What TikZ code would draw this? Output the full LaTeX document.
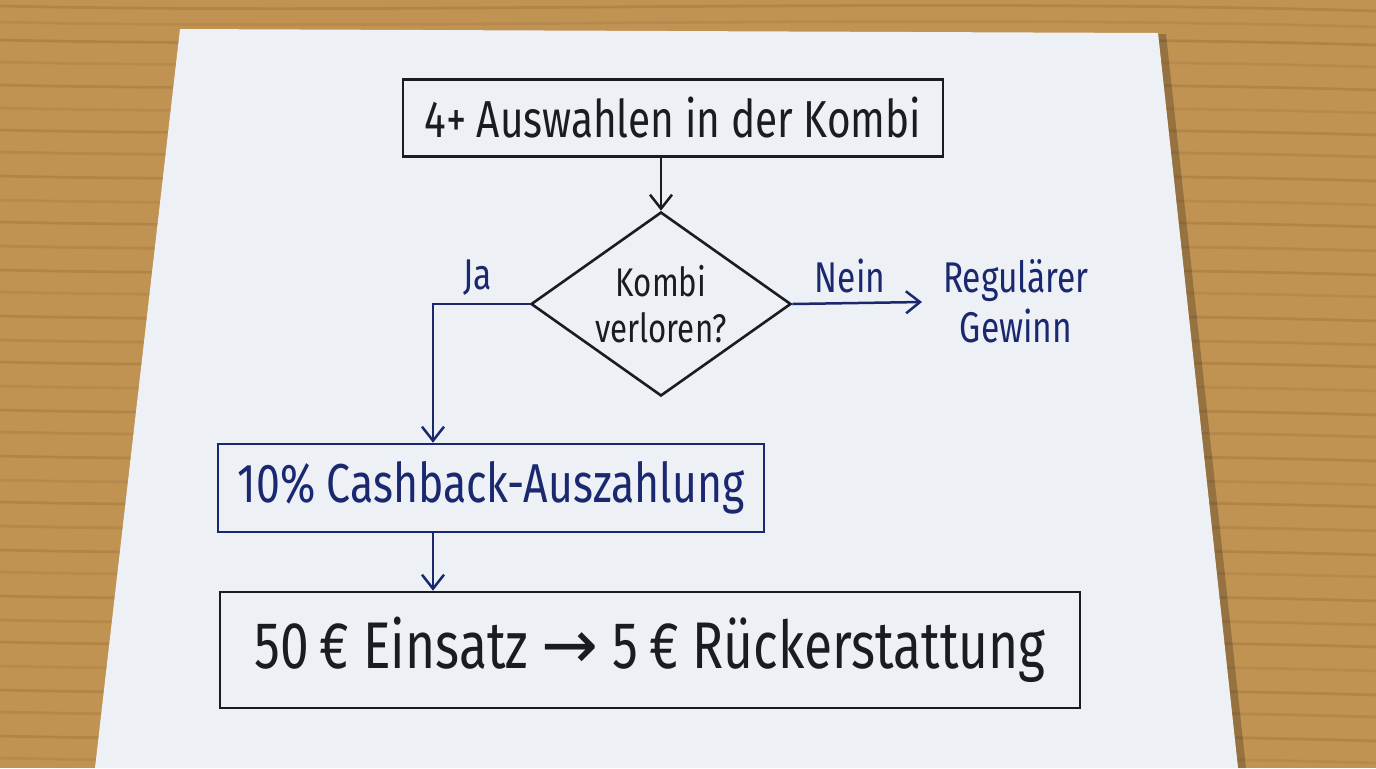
\documentclass[tikz,border=0pt]{standalone}
\usepackage{fontspec}
\usetikzlibrary{shapes.geometric,arrows.meta}
\newfontfamily\hand[FakeStretch=0.78]{Fira Sans}
\newfontfamily\symfont{DejaVu Sans}
\definecolor{wood}{HTML}{C19353}
\definecolor{wooddark}{HTML}{8E6530}
\definecolor{paper}{HTML}{EDF0F4}
\definecolor{inkblack}{HTML}{1B1B22}
\definecolor{inkblue}{HTML}{1A2870}
\tikzset{
  box/.style={draw, line width=1.3pt, inner sep=0pt, font=\hand},
  dia/.style={draw, shape=diamond, line width=1.3pt, inner sep=0pt},
  lbl/.style={font=\hand\fontsize{21.5}{25}\selectfont, text=inkblue, align=center},
  conn/.style={line width=1.25pt, -{Straight Barb[length=7pt,width=11pt,line width=1.25pt]}},
}
\begin{document}
\begin{tikzpicture}[x=0.5pt,y=-0.5pt]
\useasboundingbox (0,0) rectangle (1376,768);
% wooden table
\fill[wood] (0,0) rectangle (1376,768);
\foreach \yy/\op in {6/0.3,22/0.2,40/0.35,62/0.2,85/0.3,108/0.2,130/0.3,152/0.25,176/0.3,200/0.2,222/0.3,246/0.25,270/0.3,292/0.2,316/0.3,340/0.25,362/0.3,386/0.2,410/0.3,432/0.25,456/0.3,480/0.2,502/0.3,526/0.25,550/0.3,572/0.2,596/0.3,620/0.25,642/0.3,666/0.2,690/0.3,712/0.25,736/0.3,758/0.2}{
  \draw[wooddark, opacity=\op, line width=1.4pt] (0,\yy) .. controls (400,\yy+9) and (900,\yy-9) .. (1376,\yy+5);
}
% paper
\fill[black, opacity=0.22] (1158,34) -- (1166,34) -- (1246,768) -- (1238,768) -- cycle;
\fill[paper] (180,29) -- (1158,33) -- (1238,768) -- (95,768) -- cycle;
% nodes
\node[box, draw=inkblack, text=inkblack, minimum width=270pt, minimum height=38.5pt,
      font=\hand\fontsize{26}{30}\selectfont] (start) at (673,118) {4+ Auswahlen in der Kombi};
\node[dia, draw=inkblack, minimum width=130pt, minimum height=92pt] (dec) at (661,304) {};
\node[font=\hand\fontsize{20}{22}\selectfont, text=inkblack, align=center] (dectext) at (dec.center) {Kombi\\[1pt]verloren?};
\node[lbl] (reg) at (1016,301) {Regulärer\\Gewinn};
\node[box, draw=inkblue, text=inkblue, minimum width=273pt, minimum height=44pt,
      font=\hand\fontsize{27.4}{32}\selectfont] (cash) at (491,488) {10\% Cashback-Auszahlung};
\node[box, draw=inkblack, text=inkblack, minimum width=430pt, minimum height=58pt,
      font=\hand\fontsize{33}{38}\selectfont] (refund) at (650,650) {50\,€ Einsatz {\symfont\fontsize{34}{38}\selectfont →} 5\,€ Rückerstattung};
% connectors
\draw[conn, inkblack] (start.south -| dec.north) -- (dec.north);
\draw[conn, inkblue] (dec.east) -- (922,302) coordinate (neinend);
\node[lbl] (nein) at (850,276) {Nein};
\coordinate (jacorner) at (433,304);
\draw[conn, inkblue] (dec.west) -- (jacorner) -- (jacorner |- cash.north);
\node[lbl] (ja) at (478,278) {Ja};
\draw[conn, inkblue] (cash.south -| jacorner) -- (refund.north -| jacorner);
\end{tikzpicture}
\end{document}
